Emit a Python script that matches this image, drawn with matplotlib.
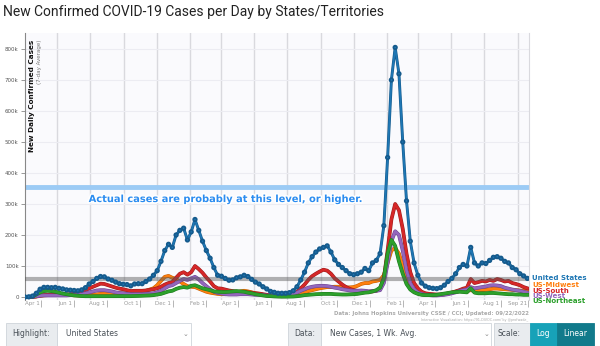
import numpy as np
import pandas as pd
import matplotlib
matplotlib.use('Agg')
import matplotlib.pyplot as plt
import matplotlib.dates as mdates
import matplotlib.patheffects as pe
import matplotlib.transforms as mtransforms
from matplotlib.patches import Rectangle

# weekly 7-day averages, in thousands, Mar 2 2020 .. Sep 19 2022
dates = pd.date_range('2020-03-02', periods=134, freq='7D')

us = [
    # 2020
    0.1, 0.5, 3, 12, 25,  31, 31, 30, 31,  28, 26, 23, 22,  21, 20, 23, 30, 42,
    50, 60, 66, 65,  58, 54, 48, 43, 41,  40, 36, 42, 43,  43, 50, 58, 70,
    85, 115, 150, 170, 160,  200, 215, 222, 184,
    # 2021
    210, 250, 215, 180,  150, 125, 95, 70,  67, 60, 54, 55, 62,  65, 70, 66, 57,
    48, 42, 33, 26, 18,  15, 12, 12, 12,  14, 20, 33, 55,  80, 110, 130, 145, 155,
    160, 165, 145, 120,  105, 95, 85, 75,  72, 75, 80, 92, 85,  110, 118, 140, 230,
    # 2022
    450, 700, 805, 720, 500,  310, 180, 110, 70,  45, 35, 30, 28,  27, 30, 38, 50,
    60, 75, 95, 105, 100,  160, 110, 100, 110,  108, 118, 128, 130,
    125, 115, 110, 95, 88,  75, 68, 60,
]
south = [
    0, 0.1, 0.5, 2, 5,  6, 7, 7, 7,  7, 7, 8, 9,  10, 12, 16, 22, 28,
    33, 38, 43, 42,  38, 34, 30, 27, 25,  22, 19, 20, 20,  20, 21, 23, 25,
    28, 33, 40, 45, 48,  62, 75, 80, 72,
    80, 100, 90, 78,  63, 50, 35, 28,  27, 24, 21, 19, 17,  16, 16, 15, 14,
    12, 11, 9, 7, 5,  4.5, 4, 4, 4.5,  6, 9, 16, 28,  40, 55, 67, 75, 82,
    88, 85, 75, 60,  50, 40, 32, 26,  22, 20, 19, 18, 17,  18, 20, 28, 60,
    150, 250, 300, 280, 220,  140, 80, 45, 28,  17, 12, 10, 9,  8, 8, 9, 11,
    14, 18, 22, 27, 30,  58, 45, 48, 52,  50, 55, 52, 58,
    55, 50, 52, 45, 42,  38, 32, 28,
]
midwest = [
    0, 0, 0.3, 1.5, 3.5,  5, 6, 6.5, 7,  7.5, 7, 7, 6.5,  5.5, 5, 5, 5.5, 6,
    7, 8.5, 10, 11,  11, 11.5, 11, 11, 11.5,  12, 13, 14, 15,  17, 20, 24, 28,
    38, 52, 65, 68, 62,  58, 50, 42, 35,
    33, 32, 27, 22,  17, 14, 12, 10,  9, 9, 10, 12, 15,  18, 20, 18, 15,
    12, 10, 7, 5, 3.5,  3, 2.5, 2.5, 2.5,  3, 4, 7, 11,  15, 19, 22, 25, 28,
    30, 32, 32, 33,  33, 32, 31, 31,  32, 36, 42, 45, 45,  50, 52, 55, 70,
    110, 150, 158, 140, 100,  60, 32, 18, 12,  9, 7, 6, 6,  6, 7, 9, 11,
    14, 17, 19, 20, 20,  22, 20, 21, 22,  23, 25, 27, 27,
    26, 25, 24, 23, 22,  21, 20, 19,
]
west = [
    0.2, 0.3, 1, 2.5, 4,  5, 5, 5, 5,  5, 5, 5, 6,  6, 7, 9, 12, 15,
    18, 21, 22, 22,  20, 18, 15, 13, 12,  10, 9, 9, 9,  9, 10, 11, 12,
    15, 20, 28, 35, 38,  45, 52, 58, 55,
    60, 65, 57, 45,  35, 25, 17, 13,  11, 9, 8, 8, 8,  9, 9, 9, 8,
    7, 7, 6, 5, 4,  3.5, 3, 3.5, 4,  6, 9, 14, 20,  25, 30, 33, 35, 36,
    36, 35, 33, 30,  28, 25, 23, 21,  20, 20, 21, 20, 18,  19, 20, 22, 45,
    110, 180, 212, 200, 150,  85, 45, 25, 15,  10, 7, 6, 5,  5, 6, 7, 9,
    12, 15, 19, 22, 24,  32, 28, 30, 32,  34, 37, 38, 37,
    35, 30, 27, 24, 22,  20, 17, 14,
]
northeast = [
    0, 0.2, 2, 8, 15,  19, 20, 19, 17,  14, 11, 9, 7,  5, 4, 3, 2.5, 2.5,
    2.5, 2.5, 2.5, 2.5,  2.5, 2.5, 2.3, 2.3, 2.5,  2.5, 2.7, 3, 3.5,  4, 4.5, 5, 6,
    8, 10, 14, 18, 20,  26, 30, 32, 30,
    36, 38, 33, 28,  25, 22, 18, 17,  16, 16, 17, 18, 19,  18, 17, 14, 12,
    9, 7, 5, 3.5, 2.5,  1.8, 1.3, 1.0, 1.0,  1.2, 1.5, 2.5, 4,  6, 7, 8, 9, 9.5,
    10, 10, 10, 9,  8.5, 8, 8, 8.5,  9, 10, 12, 14, 15,  18, 22, 30, 60,
    140, 184, 165, 115, 75,  42, 24, 15, 10,  7, 6, 6, 6,  7, 9, 11, 13,
    15, 16, 17, 16, 15,  28, 14, 12, 12,  12, 13, 13, 12,
    11, 10, 9, 9, 8,  8, 7, 7,
]

series_names = ['US-Midwest', 'US-South', 'US-West', 'US-Northeast', 'United States']
series_vals = [midwest, south, west, northeast, us]
series_colors = ['#ff7f0e', '#d62728', '#9467bd', '#2ca02c', '#1f77b4']
series_edges = ['#c75f00', '#9e1b1b', '#6c4591', '#1d7a1d', '#155a8c']

# right-hand labels (order top to bottom) and their y positions (thousands)
label_names = ['United States', 'US-Midwest', 'US-South', 'US-West', 'US-Northeast']
label_colors = ['#1f77b4', '#ff7f0e', '#d62728', '#9467bd', '#2ca02c']
label_y = [61, 38, 20, 3, -14]

tick_dates = ['2020-04-01', '2020-06-01', '2020-08-01', '2020-10-01', '2020-12-01',
              '2021-02-01', '2021-04-01', '2021-06-01', '2021-08-01', '2021-10-01',
              '2021-12-01', '2022-02-01', '2022-04-01', '2022-06-01', '2022-08-01',
              '2022-09-21']
tick_labels = ['Apr 1', 'Jun 1', 'Aug 1', 'Oct 1', 'Dec 1', 'Feb 1', 'Apr 1', 'Jun 1',
               'Aug 1', 'Oct 1', 'Dec 1', 'Feb 1', 'Apr 1', 'Jun 1', 'Aug 1', 'Sep 21']

W, H = 600, 346
fig = plt.figure(figsize=(6, 3.46), dpi=100)
fig.patch.set_facecolor('white')


def px(x, y):
    return x / W, 1 - y / H


ax_l, ax_r, ax_t, ax_b = 25, 529, 33, 300
ax = fig.add_axes([ax_l / W, 1 - ax_b / H, (ax_r - ax_l) / W, (ax_b - ax_t) / H])
ax.set_facecolor('#fafafd')

for name, vals, c, ec in zip(series_names, series_vals, series_colors, series_edges):
    vals = np.array(vals) * 1000
    if name == 'United States':
        ax.plot(dates, vals, color=c, lw=1.3, marker='o', ms=1.7, mec=ec, mew=0.5, mfc=c,
                zorder=6, solid_joinstyle='round',
                path_effects=[pe.Stroke(linewidth=2.1, foreground=ec), pe.Normal()])
    else:
        ax.plot(dates, vals, color=c, lw=1.9, zorder=4, solid_joinstyle='round',
                path_effects=[pe.Stroke(linewidth=2.7, foreground=ec), pe.Normal()])

# reference lines
ax.axhline(355000, color='#9ccbf5', lw=3.5, zorder=2)
ax.axhline(58000, color='#555555', lw=3.0, alpha=0.45, zorder=5)
ax.text(pd.Timestamp('2020-06-28'), 316000,
        'Actual cases are probably at this level, or higher.',
        color='#2b8cf0', fontsize=7.1, fontweight='bold', va='center', zorder=7,
        path_effects=[pe.withStroke(linewidth=2.2, foreground='white')])

ax.set_xlim(pd.Timestamp('2020-03-02'), pd.Timestamp('2022-09-22'))
ax.set_ylim(-9700, 851600)

# gridlines
ax.xaxis.set_minor_locator(mdates.MonthLocator(bymonthday=1))
ax.grid(True, which='minor', axis='x', color='#d9d9de', lw=1.0)
ax.set_yticks(np.arange(0, 800001, 100000))
ax.set_yticklabels(['0'] + ['%dk' % v for v in range(100, 801, 100)])
ax.grid(True, which='major', axis='y', color='#ececf2', lw=0.8)
ax.set_axisbelow(True)

ax.set_xticks(pd.to_datetime(tick_dates))
ax.set_xticklabels(tick_labels)
ax.tick_params(axis='x', which='major', length=5, width=0.6, color='#aaaaaa',
               labelsize=4, labelcolor='#999999', pad=-4.5)
ax.tick_params(axis='x', which='minor', length=0)
ax.tick_params(axis='y', length=3, width=0.6, color='#888888', labelsize=4,
               labelcolor='#555555', pad=1.5)
shift = mtransforms.ScaledTranslation(-1.2 / 72, 0, fig.dpi_scale_trans)
for lab in ax.get_xticklabels():
    lab.set_ha('right')
    lab.set_transform(lab.get_transform() + shift)

for s in ['top', 'bottom']:
    ax.spines[s].set_visible(False)
ax.spines['left'].set_color('#888888')
ax.spines['left'].set_linewidth(0.8)
ax.spines['right'].set_color('#d9d9de')

ax.text(0.008, 0.975, 'New Daily Confirmed Cases', transform=ax.transAxes, rotation=90,
        ha='left', va='top', fontsize=5.2, fontweight='bold', color='#111111')
ax.text(0.024, 0.975, '(7-day Average)', transform=ax.transAxes, rotation=90,
        ha='left', va='top', fontsize=4, color='#777777')

for name, c, y in zip(label_names, label_colors, label_y):
    ax.text(1.006, y * 1000, name, transform=ax.get_yaxis_transform(), color=c,
            fontsize=5, fontweight='bold', va='center', ha='left', clip_on=False)

# title
fig.text(*px(3, 12), 'New Confirmed COVID-19 Cases per Day by States/Territories',
         fontsize=10, family='Roboto', color='#222222', va='center', ha='left')
# source
fig.text(*px(529, 313), 'Data: Johns Hopkins University CSSE / CCI; Updated: 09/22/2022',
         fontsize=3.9, fontweight='bold', color='#aaaaaa', ha='right', va='center')
fig.text(*px(528, 320), 'Interactive Visualization: https://91-DIVOC.com/ by @profwade_',
         fontsize=2.4, color='#aaaaaa', ha='right', va='center')


# control bar
def box(x0, x1, fc, ec='#ced4da'):
    y0, y1 = 323, 346
    r = Rectangle(px(x0, y1), (x1 - x0) / W, (y1 - y0) / H, transform=fig.transFigure,
                  facecolor=fc, edgecolor=ec, lw=0.6)
    fig.patches.append(r)


ctrl_y = 334
box(6, 57, '#e9ecef')
box(57, 191, 'white')
box(288, 321, '#e9ecef')
box(321, 491, 'white')
box(494, 530, '#e9ecef')
box(530, 557, '#17a2b8', '#17a2b8')
box(557, 594, '#117a8b', '#117a8b')
fig.text(*px(12, ctrl_y), 'Highlight:', fontsize=5.5, color='#495057', va='center')
fig.text(*px(66, ctrl_y), 'United States', fontsize=5.5, color='#495057', va='center')
fig.text(*px(186, ctrl_y), '⌄', fontsize=5, color='#888888', va='center', ha='center')
fig.text(*px(294, ctrl_y), 'Data:', fontsize=5.5, color='#495057', va='center')
fig.text(*px(330, ctrl_y), 'New Cases, 1 Wk. Avg.', fontsize=5.5, color='#495057', va='center')
fig.text(*px(486, ctrl_y), '⌄', fontsize=5, color='#888888', va='center', ha='center')
fig.text(*px(498, ctrl_y), 'Scale:', fontsize=5.5, color='#495057', va='center')
fig.text(*px(543.5, ctrl_y), 'Log', fontsize=5.5, color='white', va='center', ha='center')
fig.text(*px(575.5, ctrl_y), 'Linear', fontsize=5.5, color='white', va='center', ha='center')

fig.savefig('out.png', dpi=100)
